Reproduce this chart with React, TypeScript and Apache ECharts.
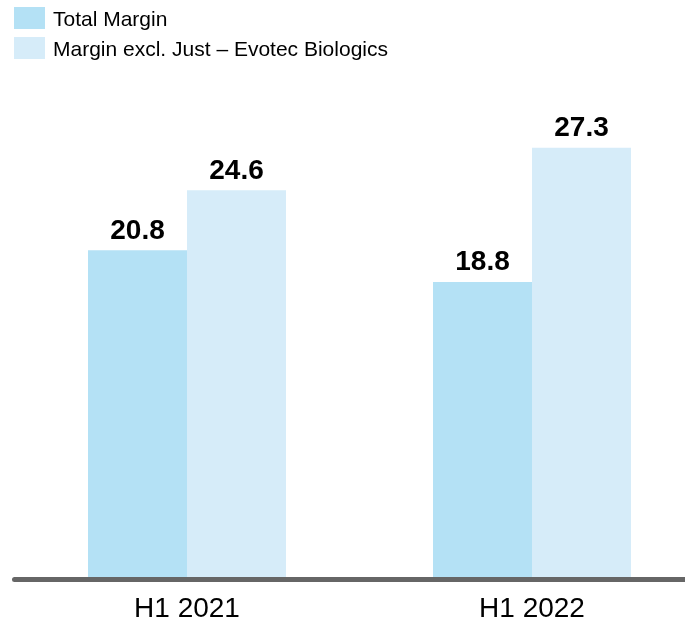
import React, { useEffect, useRef } from "react";
import * as echarts from "echarts";

const categories = ["H1 2021", "H1 2022"];
const seriesNames = ["Total Margin", "Margin excl. Just – Evotec Biologics"];
const totalMargin = [20.8, 18.8];
const marginExcl = [24.6, 27.3];
const colors = ["#b4e1f5", "#d6ecf9"];

const FONT = "'Liberation Sans', Arial, sans-serif";

export default function App() {
  const ref = useRef<HTMLDivElement>(null);
  useEffect(() => {
    if (!ref.current) return;
    const chart = echarts.init(ref.current, undefined, { renderer: "svg" });
    const labelCfg = {
      show: true,
      position: "top" as const,
      distance: 7,
      color: "#000",
      fontSize: 28,
      fontWeight: "bold" as const,
      fontFamily: FONT,
      formatter: (p: any) => Number(p.value).toFixed(1),
    };
    chart.setOption({
      animation: false,
      legend: {
        orient: "vertical",
        left: 14,
        top: 7,
        padding: 0,
        itemWidth: 31,
        itemHeight: 22,
        itemGap: 8,
        icon: "rect",
        textStyle: {
          fontSize: 21,
          color: "#000",
          fontFamily: FONT,
          padding: [0, 0, 0, 3],
        },
        data: seriesNames,
      },
      grid: { left: 14.5, width: 690, top: 105, height: 474 },
      xAxis: {
        type: "category",
        data: categories,
        z: 3,
        axisLine: { show: true, lineStyle: { color: "#666666", width: 5 } },
        axisTick: { show: false },
        axisLabel: {
          color: "#000",
          fontSize: 28,
          fontFamily: FONT,
          margin: 14,
        },
      },
      yAxis: {
        type: "value",
        min: 0,
        max: 30,
        show: false,
        splitLine: { show: false },
      },
      series: [
        {
          name: seriesNames[0],
          type: "bar",
          data: totalMargin,
          barWidth: 99,
          barGap: "0%",
          itemStyle: { color: colors[0] },
          label: labelCfg,
        },
        {
          name: seriesNames[1],
          type: "bar",
          data: marginExcl,
          barWidth: 99,
          barGap: "0%",
          itemStyle: { color: colors[1] },
          label: labelCfg,
        },
      ],
    });
    return () => chart.dispose();
  }, []);
  return (
    <div
      style={{
        position: "fixed",
        left: 0,
        top: 0,
        width: 685,
        height: 621,
        overflow: "hidden",
      }}
    >
      <div ref={ref} style={{ width: 710, height: 621 }} />
    </div>
  );
}
